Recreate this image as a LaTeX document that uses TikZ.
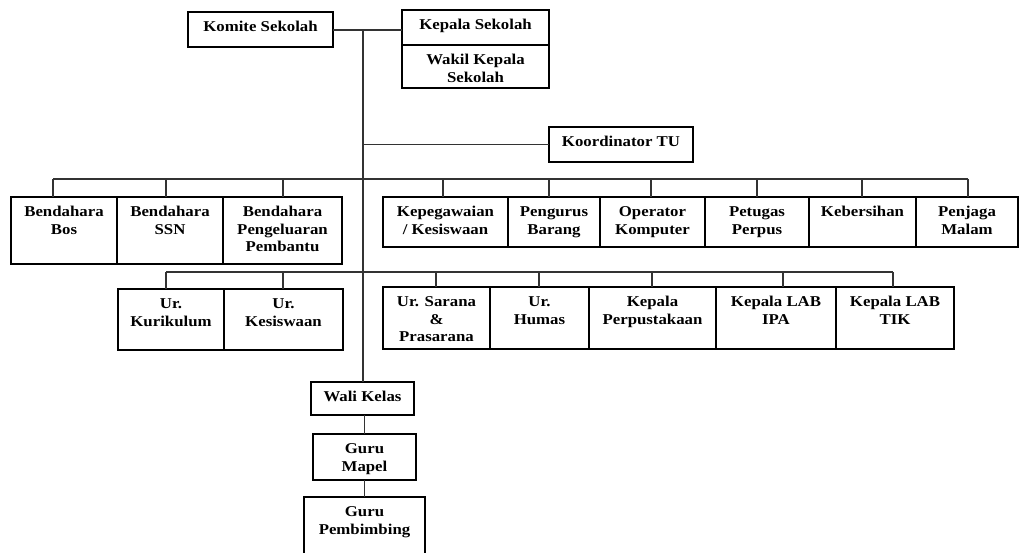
\documentclass[tikz,border=0pt]{standalone}
\usepackage{fontspec}
\setmainfont{Liberation Serif}[FakeStretch=1.12]
\tikzset{
  box/.style={draw=black, line width=1.6pt, inner sep=0pt, outer sep=0pt},
  lbl/.style={font=\bfseries\fontsize{15}{17.5}\selectfont, text=black, align=center, inner sep=0pt, anchor=north},
  conn/.style={draw=black!80, line width=1.6pt},
}
\newcommand\bx[6]{%
  \node[box, minimum width={(#4)-(#2)}, minimum height={(#5)-(#3)}] (#1) at ({((#2)+(#4))/2},{((#3)+(#5))/2}) {};
  \node[lbl] (#1-t) at ({((#2)+(#4))/2},{(#3)+8.5}) {\rule{0pt}{11pt}#6};}
\begin{document}
\begin{tikzpicture}[x=1pt,y=-1pt]
\useasboundingbox (0,0) rectangle (1019,553);
\clip (0,0) rectangle (1019,553);
% boxes
\bx{komite}{188}{12}{333}{47}{Komite Sekolah}
\bx{ks}{402}{10}{549}{45}{Kepala Sekolah}
\bx{wk}{402}{45}{549}{88}{Wakil Kepala\\Sekolah}
\bx{tu}{549}{127}{693}{162}{Koordinator TU}
\bx{bos}{11}{197}{117}{264}{Bendahara\\Bos}
\bx{ssn}{117}{197}{223}{264}{Bendahara\\SSN}
\bx{bpp}{223}{197}{342}{264}{Bendahara\\Pengeluaran\\Pembantu}
\bx{kep}{383}{197}{508}{247}{Kepegawaian\\/ Kesiswaan}
\bx{pb}{508}{197}{600}{247}{Pengurus\\Barang}
\bx{op}{600}{197}{705}{247}{Operator\\Komputer}
\bx{pp}{705}{197}{809}{247}{Petugas\\Perpus}
\bx{keb}{809}{197}{916}{247}{Kebersihan}
\bx{pj}{916}{197}{1018}{247}{Penjaga\\Malam}
\bx{kur}{118}{289}{224}{350}{Ur.\\Kurikulum}
\bx{kes}{224}{289}{343}{350}{Ur.\\Kesiswaan}
\bx{sar}{383}{287}{490}{349}{Ur. Sarana\\\&\\Prasarana}
\bx{hum}{490}{287}{589}{349}{Ur.\\Humas}
\bx{perp}{589}{287}{716}{349}{Kepala\\Perpustakaan}
\bx{ipa}{716}{287}{836}{349}{Kepala LAB\\IPA}
\bx{tik}{836}{287}{954}{349}{Kepala LAB\\TIK}
\bx{wali}{311}{382}{414}{415}{Wali Kelas}
\bx{mapel}{313}{434}{416}{480}{Guru\\Mapel}
\bx{pemb}{304}{497}{425}{570}{Guru\\Pembimbing}
% trunk
\coordinate (j0) at (363,30);
\draw[conn] (komite.east |- j0) -- (ks.west |- j0);
\draw[conn] (j0) -- (j0 |- wali.north);
\draw[conn] (j0 |- tu.west) -- (tu.west);
% row 1 bus
\coordinate (a1) at (53,179);
\coordinate (a2) at (166,179);
\coordinate (a3) at (283,179);
\coordinate (a4) at (443,179);
\coordinate (a5) at (549,179);
\coordinate (a6) at (651,179);
\coordinate (a7) at (757,179);
\coordinate (a8) at (862,179);
\coordinate (a9) at (968,179);
\draw[conn] (a1) -- (a9);
\draw[conn] (a1) -- (a1 |- bos.north);
\draw[conn] (a2) -- (a2 |- ssn.north);
\draw[conn] (a3) -- (a3 |- bpp.north);
\draw[conn] (a4) -- (a4 |- kep.north);
\draw[conn] (a5) -- (a5 |- pb.north);
\draw[conn] (a6) -- (a6 |- op.north);
\draw[conn] (a7) -- (a7 |- pp.north);
\draw[conn] (a8) -- (a8 |- keb.north);
\draw[conn] (a9) -- (a9 |- pj.north);
% row 2 bus
\coordinate (b1) at (166,272);
\coordinate (b2) at (283,272);
\coordinate (b3) at (436,272);
\coordinate (b4) at (539,272);
\coordinate (b5) at (652,272);
\coordinate (b6) at (783,272);
\coordinate (b7) at (893,272);
\draw[conn] (b1) -- (b7);
\draw[conn] (b1) -- (b1 |- kur.north);
\draw[conn] (b2) -- (b2 |- kes.north);
\draw[conn] (b3) -- (b3 |- sar.north);
\draw[conn] (b4) -- (b4 |- hum.north);
\draw[conn] (b5) -- (b5 |- perp.north);
\draw[conn] (b6) -- (b6 |- ipa.north);
\draw[conn] (b7) -- (b7 |- tik.north);
% lower chain
\draw[conn] (mapel.north |- wali.south) -- (mapel.north);
\draw[conn] (mapel.south) -- (pemb.north);
\end{tikzpicture}
\end{document}
